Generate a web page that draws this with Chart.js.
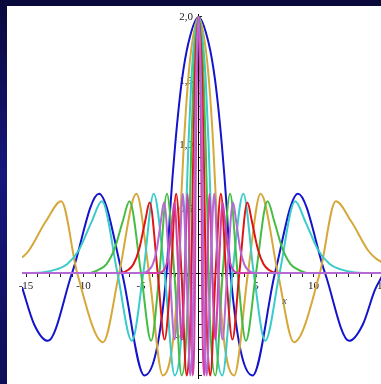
<!DOCTYPE html>
<html>
<head>
<meta charset="utf-8">
<script src="https://cdn.jsdelivr.net/npm/chart.js@4.4.0/dist/chart.umd.min.js"></script>
<style>
  html, body {
    margin: 0;
    padding: 0;
    width: 381px;
    height: 384px;
    overflow: hidden;
    background: linear-gradient(180deg, #08083a 0%, #16167c 45%, #0e0e58 100%);
  }
  #frame {
    position: absolute;
    left: 7px;
    top: 6px;
    width: 376px;
    height: 378px;
    background: #fff;
  }
  canvas { display: block; }
</style>
</head>
<body>
<div id="frame"><canvas id="plot" width="376" height="378"></canvas></div>
<script>
// values (x, y pairs per curve)
const xBlue = [-15.35, -14.3, -13.1, -11.0, -8.65, -6.65, -4.7, -2.78, -2.46, -2.03, -1.45, -0.87, 0,
               0.87, 1.45, 2.03, 2.46, 2.78, 4.7, 6.65, 8.65, 11.0, 13.1, 14.3, 15.35, 16];
const yBlue = [-0.11, -0.4, -0.53, 0, 0.62, 0, -0.8, 0, 0.5, 1.0, 1.5, 1.8, 2.0,
               1.8, 1.5, 1.0, 0.5, 0, -0.8, 0, 0.62, 0, -0.53, -0.4, -0.13, -0.02];

const xGold = [-15.35, -14.8, -13.3, -11.94, -10.55, -8.3, -6.9, -5.4, -4.3, -3.1, -1.75, -1.55, -1.28, -0.91, -0.55, 0,
               0.55, 0.91, 1.28, 1.55, 1.75, 3.1, 4.3, 5.4, 6.9, 8.3, 10.55, 11.94, 13.3, 14.8, 15.35, 16];
const yGold = [0.12, 0.17, 0.40, 0.56, 0, -0.54, 0, 0.62, 0, -0.8, 0, 0.5, 1.0, 1.5, 1.8, 2.0,
               1.8, 1.5, 1.0, 0.5, 0, -0.8, 0, 0.62, 0, -0.54, 0, 0.56, 0.40, 0.17, 0.12, 0.08];

const xCyan = [-15.35, -13.6, -12.3, -11.4, -10.4, -9.3, -8.4, -7.05, -5.8, -4.8, -3.9, -2.95, -2.07, -1.21, -1.07, -0.88, -0.63, -0.38, 0,
               0.38, 0.63, 0.88, 1.07, 1.21, 2.07, 2.95, 3.9, 4.8, 5.8, 7.05, 8.4, 9.3, 10.4, 11.4, 12.3, 13.6, 16];
const yCyan = [0, 0.005, 0.03, 0.07, 0.18, 0.40, 0.56, 0, -0.53, 0, 0.62, 0, -0.8, 0, 0.5, 1.0, 1.5, 1.8, 2.0,
               1.8, 1.5, 1.0, 0.5, 0, -0.8, 0, 0.62, 0, -0.53, 0, 0.56, 0.40, 0.18, 0.07, 0.03, 0.005, 0];

const xGreen = [-15.35, -9.6, -8.7, -8.0, -7.3, -6.6, -6.0, -5.0, -4.12, -3.4, -2.75, -2.1, -1.47, -0.86, -0.76, -0.62, -0.45, -0.27, 0,
                0.27, 0.45, 0.62, 0.76, 0.86, 1.47, 2.1, 2.75, 3.4, 4.12, 5.0, 6.0, 6.6, 7.3, 8.0, 8.7, 9.6, 16];
const yGreen = [0, 0, 0.025, 0.07, 0.19, 0.40, 0.56, 0, -0.53, 0, 0.62, 0, -0.8, 0, 0.5, 1.0, 1.5, 1.8, 2.0,
                1.8, 1.5, 1.0, 0.5, 0, -0.8, 0, 0.62, 0, -0.53, 0, 0.56, 0.40, 0.19, 0.07, 0.025, 0, 0];

const xRed = [-15.35, -6.8, -6.1, -5.65, -5.15, -4.65, -4.25, -3.55, -2.95, -2.4, -1.95, -1.48, -1.03, -0.61, -0.54, -0.44, -0.32, -0.19, 0,
              0.19, 0.32, 0.44, 0.54, 0.61, 1.03, 1.48, 1.95, 2.4, 2.95, 3.55, 4.25, 4.65, 5.15, 5.65, 6.1, 6.8, 16];
const yRed = [0, 0, 0.025, 0.07, 0.19, 0.40, 0.55, 0, -0.52, 0, 0.62, 0, -0.8, 0, 0.5, 1.0, 1.5, 1.8, 2.0,
              1.8, 1.5, 1.0, 0.5, 0, -0.8, 0, 0.62, 0, -0.52, 0, 0.55, 0.40, 0.19, 0.07, 0.025, 0, 0];

const xPurple = [-15.35, -4.8, -4.3, -3.97, -3.62, -3.28, -3.0, -2.5, -2.08, -1.7, -1.37, -1.04, -0.72, -0.43, -0.38, -0.31, -0.22, -0.13, 0,
                 0.13, 0.22, 0.31, 0.38, 0.43, 0.72, 1.04, 1.37, 1.7, 2.08, 2.5, 3.0, 3.28, 3.62, 3.97, 4.3, 4.8, 16];
const yPurple = [0, 0, 0.025, 0.07, 0.19, 0.40, 0.55, 0, -0.52, 0, 0.62, 0, -0.8, 0, 0.5, 1.0, 1.5, 1.8, 2.0,
                 1.8, 1.5, 1.0, 0.5, 0, -0.8, 0, 0.62, 0, -0.52, 0, 0.55, 0.40, 0.19, 0.07, 0.025, 0, 0];

const xMagenta = [-15.35, -3.4, -3.0, -2.78, -2.53, -2.3, -2.1, -1.75, -1.46, -1.19, -0.96, -0.73, -0.5, -0.3, -0.27, -0.22, -0.15, -0.09, 0,
                  0.09, 0.15, 0.22, 0.27, 0.3, 0.5, 0.73, 0.96, 1.19, 1.46, 1.75, 2.1, 2.3, 2.53, 2.78, 3.0, 3.4, 16];
const yMagenta = [0, 0, 0.025, 0.07, 0.19, 0.40, 0.55, 0, -0.52, 0, 0.62, 0, -0.8, 0, 0.5, 1.0, 1.5, 1.8, 2.0,
                  1.8, 1.5, 1.0, 0.5, 0, -0.8, 0, 0.62, 0, -0.52, 0, 0.55, 0.40, 0.19, 0.07, 0.025, 0, 0];

// tick labels
const xTickValues = [-15, -10, -5, 0, 5, 10, 16];
const xTickLabels = ['-15', '-10', '-5', '0\u2002\u2002', '5', '10', '16'];
const yTickValues = [-0.5, 0.5, 1, 1.5, 2];
const yTickLabels = ['-0,5', '0,5', '1,0', '1,5', '2,0'];

function pairs(xs, ys) {
    return xs.map((x, i) => ({ x: x, y: ys[i] }));
}

function curve(xs, ys, color) {
    return {
        data: pairs(xs, ys),
        borderColor: color,
        borderWidth: 2,
        pointRadius: 0,
        fill: false,
        cubicInterpolationMode: 'monotone'
    };
}

// first dataset is drawn on top
const datasets = [
    curve(xPurple, yPurple, '#b46ad2'),
    curve(xMagenta, yMagenta, '#d23fa8'),
    curve(xRed, yRed, '#e01414'),
    curve(xGreen, yGreen, '#45bd45'),
    curve(xCyan, yCyan, '#3ccbcb'),
    curve(xGold, yGold, '#d6a83a'),
    curve(xBlue, yBlue, '#1414cc')
];

const tickFont = { family: '"Liberation Serif", "DejaVu Serif", serif', size: 11 };

// axes sit inside the plot, so they should not shrink it
function noPadding(scale) {
    scale.paddingLeft = 0;
    scale.paddingRight = 0;
    scale.paddingTop = 0;
    scale.paddingBottom = 0;
}

const axisName = {
    id: 'axisName',
    afterDraw(chart) {
        const ctx = chart.ctx;
        const sx = chart.scales.x, sy = chart.scales.y;
        ctx.save();
        ctx.font = 'italic 10px "Liberation Serif", serif';
        ctx.fillStyle = '#555';
        ctx.textAlign = 'center';
        ctx.fillText('x', sx.getPixelForValue(7.5), sy.getPixelForValue(-0.24));
        ctx.restore();
    }
};

new Chart(document.getElementById('plot'), {
    type: 'line',
    data: { datasets: datasets },
    plugins: [axisName],
    options: {
        responsive: false,
        animation: false,
        layout: { padding: { left: 15, right: 0.5, top: 8.4, bottom: 6 } },
        plugins: { legend: { display: false }, tooltip: { enabled: false } },
        scales: {
            x: {
                type: 'linear',
                position: { y: 0 },
                min: -15.35,
                max: 16,
                z: 1,
                border: { display: true, color: '#000', width: 1 },
                grid: { drawOnChartArea: false, drawTicks: true, tickLength: 3, color: '#222' },
                afterFit: noPadding,
                afterBuildTicks: (scale) => {
                    const t = [];
                    for (let v = -15; v <= 16; v++) t.push({ value: v });
                    scale.ticks = t;
                },
                ticks: {
                    autoSkip: false,
                    maxRotation: 0,
                    padding: 3,
                    color: '#222',
                    font: tickFont,
                    callback: (value) => {
                        const i = xTickValues.indexOf(value);
                        return i >= 0 ? xTickLabels[i] : '';
                    }
                }
            },
            y: {
                type: 'linear',
                position: { x: 0 },
                min: -0.82,
                max: 2.02,
                z: 1,
                border: { display: true, color: '#000', width: 1 },
                grid: { drawOnChartArea: false, drawTicks: true, tickLength: -4, color: '#222' },
                afterFit: noPadding,
                afterBuildTicks: (scale) => {
                    const t = [];
                    for (let v = -8; v <= 20; v++) t.push({ value: v / 10 });
                    scale.ticks = t;
                },
                ticks: {
                    autoSkip: false,
                    color: '#222',
                    font: tickFont,
                    callback: (value) => {
                        const i = yTickValues.indexOf(value);
                        // en space keeps the label clear of the axis line
                        return i >= 0 ? yTickLabels[i] + '\u2002' : '';
                    }
                }
            }
        }
    }
});
</script>
</body>
</html>
